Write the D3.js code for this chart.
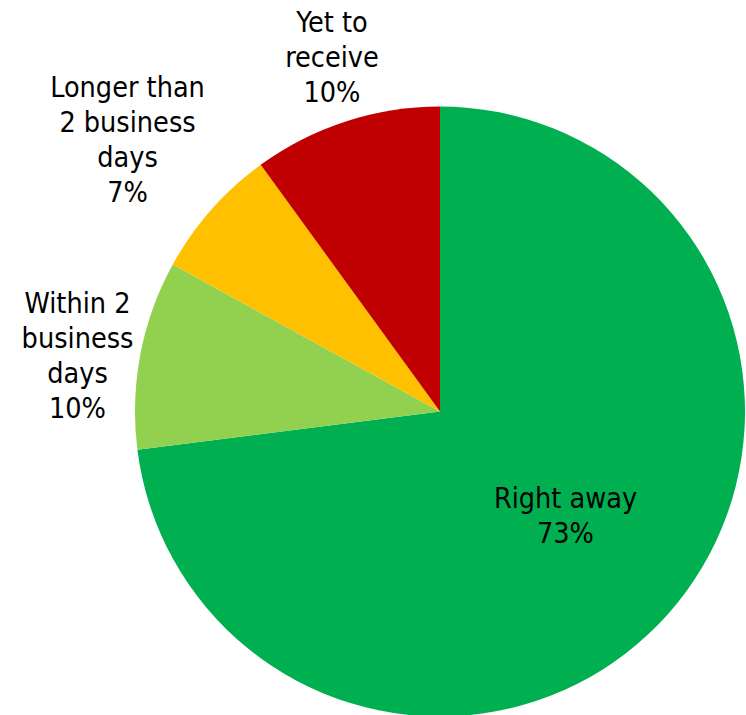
<!DOCTYPE html>
<html>
<head>
<meta charset="utf-8">
<script src="https://cdn.jsdelivr.net/npm/d3@7/dist/d3.min.js"></script>
<style>
  html, body { margin: 0; padding: 0; background: #ffffff; overflow: hidden; }
  svg { display: block; }
  text { font-family: "DejaVu Sans Condensed", "DejaVu Sans", sans-serif; font-stretch: condensed; fill: #000; }
</style>
</head>
<body>
<svg id="chart" width="746" height="715"></svg>
<script>
// Time taken to receive — share of respondents
const categories = ["Right away", "Within 2 business days", "Longer than 2 business days", "Yet to receive"];
const values = [73, 10, 7, 10];
const colors = ["#00B050", "#92D050", "#FFC000", "#C00000"];
// Label lines for each slice (category wording split as displayed)
const labelLines = [
  ["Right away"],
  ["Within 2", "business", "days"],
  ["Longer than", "2 business", "days"],
  ["Yet to", "receive"]
];

const W = 746, H = 715;
const cx = 440, cy = 411.5, radius = 305;

const svg = d3.select("#chart");
const g = svg.append("g").attr("transform", `translate(${cx},${cy})`);

const data = categories.map((c, i) => ({ category: c, value: values[i], color: colors[i], lines: labelLines[i] }));

const pie = d3.pie().value(d => d.value).sort(null);
const arc = d3.arc().innerRadius(0).outerRadius(radius);
const arcs = pie(data);

g.selectAll("path.slice")
  .data(arcs)
  .join("path")
  .attr("class", "slice")
  .attr("d", arc)
  .attr("fill", d => d.data.color);

// Label anchor positions (centre x, first baseline y) relative to the page
const labelPos = [
  { x: 565.5, y: 508 },
  { x: 77.5, y: 313 },
  { x: 127.5, y: 97 },
  { x: 332, y: 32 }
];
const lineH = 34.9;

const labels = svg.selectAll("text.lbl")
  .data(arcs)
  .join("text")
  .attr("class", "lbl")
  .attr("text-anchor", "middle")
  .attr("font-size", 28.5);

labels.each(function (d, i) {
  const t = d3.select(this);
  const lines = d.data.lines.concat([d3.format(".0f")(d.data.value) + "%"]);
  lines.forEach((ln, j) => {
    t.append("tspan")
      .attr("x", labelPos[i].x)
      .attr("y", labelPos[i].y + j * lineH)
      .text(ln);
  });
});
</script>
</body>
</html>
